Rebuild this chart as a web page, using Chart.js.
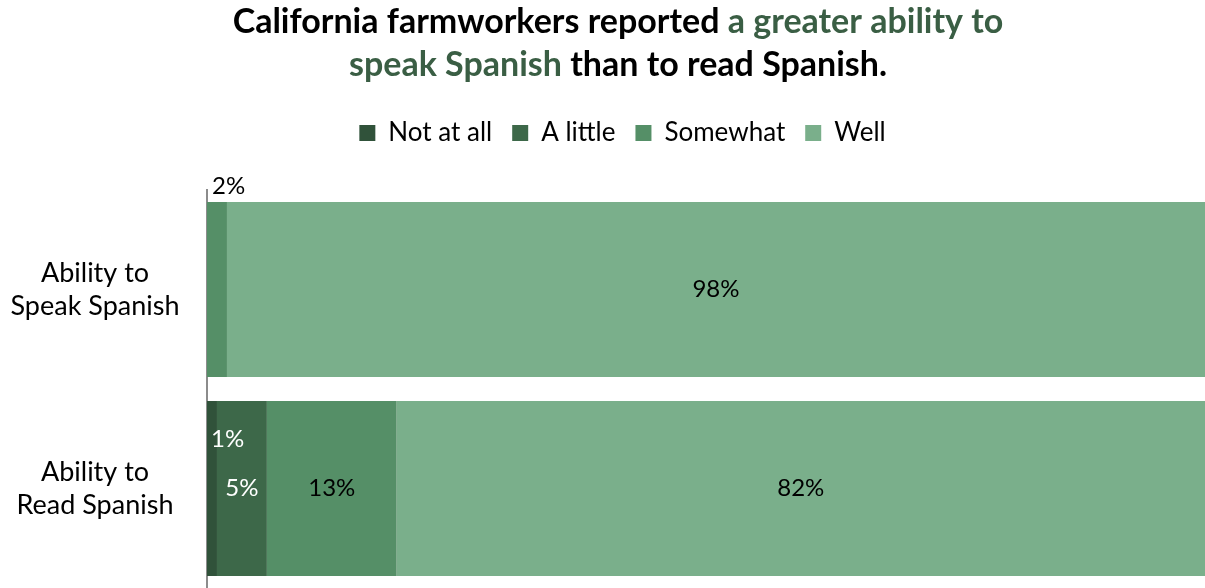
<!DOCTYPE html>
<html lang="en">
<head>
<meta charset="UTF-8">
<title>Spanish ability</title>
<script src="https://cdn.jsdelivr.net/npm/chart.js@4.4.1/dist/chart.umd.min.js"></script>
<style>
  html, body { margin: 0; padding: 0; background: #fff; }
  #wrap { width: 1205px; height: 588px; }
</style>
</head>
<body>
<div id="wrap"><canvas id="myChart"></canvas></div>
<script>
// survey shares, percent
const categories = [['Ability to', 'Speak Spanish'], ['Ability to', 'Read Spanish']];
const levels = ['Not at all', 'A little', 'Somewhat', 'Well'];
const notAtAll = [0, 1];
const aLittle = [0, 5];
const somewhat = [2, 13];
const well = [98, 82];

const colors = ['#30523a', '#3d6849', '#558f67', '#7aaf8b'];
const labelColors = ['#ffffff', '#ffffff', '#000000', '#000000'];
const green = '#3a5e44';
const FONT = 'Lato, "Open Sans", sans-serif';

// small segments whose labels sit outside the usual centre spot
const labelNudge = { '2,0': 'above', '0,1': 'raised' };

const titleLines = [
    [['California farmworkers reported ', '#000'], ['a greater ability to', green]],
    [['speak Spanish', green], [' than to read Spanish.', '#000']]
];

const extras = {
    id: 'extras',
    beforeUpdate(chart) {
        // leave a gap between the legend row and the bars
        const lg = chart.legend;
        if (lg && !lg._gapAdded) {
            const fit = lg.fit.bind(lg);
            lg.fit = function () { fit(); this.height += 34; };
            lg._gapAdded = true;
        }
    },
    afterDatasetsDraw(chart) {
        const ctx = chart.ctx;
        const area = chart.chartArea;
        ctx.save();
        ctx.font = '24px ' + FONT;
        ctx.textBaseline = 'middle';
        chart.data.datasets.forEach((ds, di) => {
            const meta = chart.getDatasetMeta(di);
            meta.data.forEach((bar, i) => {
                const v = ds.data[i];
                if (!v) return;
                const txt = v + '%';
                const left = Math.min(bar.base, bar.x);
                const right = Math.min(Math.max(bar.base, bar.x), area.right);
                const nudge = labelNudge[di + ',' + i];
                ctx.fillStyle = labelColors[di];
                if (nudge === 'above') {
                    ctx.fillStyle = '#000';
                    ctx.textAlign = 'left';
                    ctx.fillText(txt, left + 5, bar.y - bar.height / 2 - 16);
                } else if (nudge === 'raised') {
                    ctx.textAlign = 'left';
                    ctx.fillText(txt, left + 4, bar.y - 49);
                } else {
                    ctx.textAlign = 'center';
                    ctx.fillText(txt, (left + right) / 2, bar.y);
                }
            });
        });
        ctx.restore();
    },
    afterDraw(chart) {
        const ctx = chart.ctx;
        ctx.save();
        // category labels, centred in the left margin
        const ys = chart.scales.y;
        ctx.font = '27px ' + FONT;
        ctx.fillStyle = '#000';
        ctx.textAlign = 'center';
        ctx.textBaseline = 'middle';
        categories.forEach((lines, i) => {
            const cy = ys.getPixelForTick(i);
            const lh = 33;
            lines.forEach((ln, k) => {
                ctx.fillText(ln, 95, cy + (k - (lines.length - 1) / 2) * lh);
            });
        });
        // two-colour title
        ctx.font = 'bold 34px ' + FONT;
        ctx.textAlign = 'left';
        ctx.textBaseline = 'alphabetic';
        titleLines.forEach((parts, k) => {
            const total = parts.reduce((s, p) => s + ctx.measureText(p[0]).width, 0);
            let x = 618 - total / 2;
            parts.forEach(p => {
                ctx.fillStyle = p[1];
                ctx.fillText(p[0], x, 33 + k * 43);
                x += ctx.measureText(p[0]).width;
            });
        });
        ctx.restore();
    }
};

const series = [notAtAll, aLittle, somewhat, well];

new Chart(document.getElementById('myChart'), {
    type: 'bar',
    data: {
        labels: categories,
        datasets: levels.map((name, i) => ({
            label: name,
            data: series[i],
            backgroundColor: colors[i],
            borderWidth: 0,
            barPercentage: 0.88,
            categoryPercentage: 1
        }))
    },
    options: {
        indexAxis: 'y',
        responsive: true,
        maintainAspectRatio: false,
        animation: false,
        layout: { padding: { top: 100, left: 40, right: 0, bottom: 0 } },
        scales: {
            x: {
                stacked: true,
                min: 0,
                max: 100,
                display: false
            },
            y: {
                stacked: true,
                grid: { display: false, drawTicks: false },
                border: { display: true, color: '#8c8c8c', width: 2 },
                ticks: { display: false },
                afterFit(scale) { scale.width = 167; }
            }
        },
        plugins: {
            legend: {
                position: 'top',
                labels: {
                    boxWidth: 16,
                    boxHeight: 16,
                    padding: 20,
                    color: '#000',
                    font: { family: FONT, size: 26 }
                }
            },
            tooltip: { enabled: false }
        }
    },
    plugins: [extras]
});
</script>
</body>
</html>
